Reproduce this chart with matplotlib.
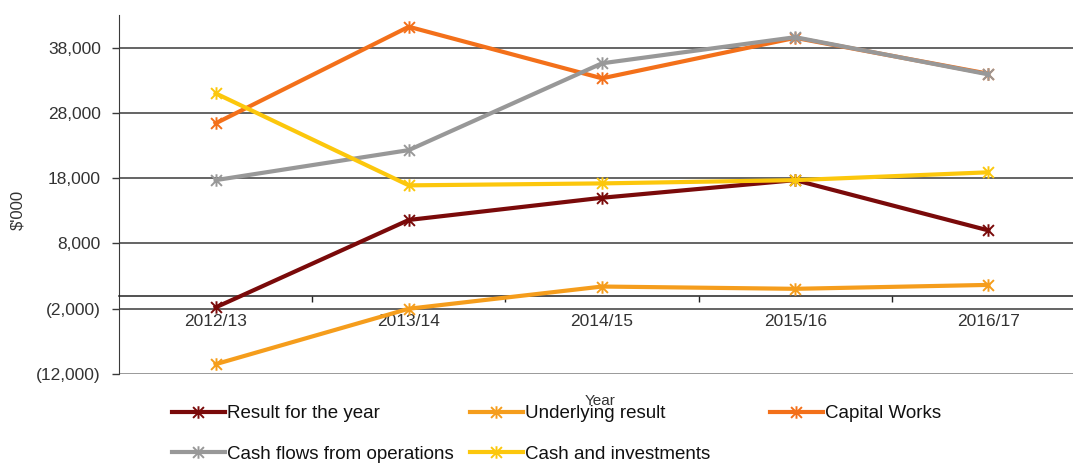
"""
Five-year financial summary: operating result, underlying result, capital
works, operating cash flows and cash holdings ($'000).
"""
import matplotlib
matplotlib.use("Agg")
import matplotlib.pyplot as plt
from matplotlib.path import Path
from matplotlib.ticker import FuncFormatter, FixedLocator

years = ["2012/13", "2013/14", "2014/15", "2015/16", "2016/17"]

result_for_year = [-1800, 11600, 15000, 17700, 10000]
underlying_result = [-10500, -2000, 1400, 1050, 1650]
capital_works = [26400, 41200, 33300, 39500, 34000]
cash_flows_ops = [17700, 22300, 35600, 39600, 33900]
cash_investments = [31000, 16900, 17200, 17700, 18900]

series = [
    ("Result for the year", result_for_year, "#7a0a0a"),
    ("Underlying result", underlying_result, "#f59d1c"),
    ("Capital Works", capital_works, "#f3701a"),
    ("Cash flows from operations", cash_flows_ops, "#989898"),
    ("Cash and investments", cash_investments, "#fcc70c"),
]

y_ticks = [-12000, -2000, 8000, 18000, 28000, 38000]

# Excel-style star marker: an X crossed by a vertical stroke
STAR = Path(
    [(-1, -1), (1, 1), (-1, 1), (1, -1), (0, -1.15), (0, 1.15)],
    [Path.MOVETO, Path.LINETO, Path.MOVETO, Path.LINETO, Path.MOVETO, Path.LINETO],
)

plt.rcParams["font.family"] = ["Liberation Sans Narrow", "Liberation Sans", "DejaVu Sans"]

fig = plt.figure(figsize=(10.73, 4.68), dpi=100)
# plot area runs slightly past the right edge of the figure
ax = fig.add_axes([119 / 1073, 1 - 374 / 468, 966 / 1073, 359 / 468])

x = list(range(len(years)))
handles = {}
for name, vals, color in series:
    (ln,) = ax.plot(x, vals, color=color, lw=3, marker=STAR,
                    markersize=9, markeredgewidth=1.4, label=name,
                    solid_joinstyle="round", zorder=3)
    handles[name] = ln

ax.set_xlim(-0.5, len(years) - 0.5)
ax.set_ylim(-12000, 43000)

# horizontal gridlines
for v in y_ticks:
    ax.axhline(v, color="#3a3a3a" if v != -12000 else "#7f7f7f", lw=1.1, zorder=1)

ax.yaxis.set_major_locator(FixedLocator(y_ticks))
ax.yaxis.set_major_formatter(FuncFormatter(
    lambda v, _: f"({abs(v):,.0f})" if v < 0 else f"{v:,.0f}"))
ax.tick_params(axis="y", length=5, width=1, color="#3a3a3a", labelsize=12.5,
               labelcolor="#333333", pad=8)

# category axis crosses at zero
ax.spines["bottom"].set_position(("data", 0))
ax.spines["bottom"].set_color("#222222")
ax.spines["bottom"].set_linewidth(1.1)
ax.spines["left"].set_color("#3a3a3a")
ax.spines["top"].set_visible(False)
ax.spines["right"].set_visible(False)

ax.set_xticks(x)
ax.set_xticklabels(years)
ax.set_xticks([i + 0.5 for i in x[:-1]], minor=True)
ax.tick_params(axis="x", which="major", length=0, labelsize=12.5,
               labelcolor="#333333", pad=13)
ax.tick_params(axis="x", which="minor", length=4, width=1, color="#222222")

fig.text(18 / 1073, 1 - 210 / 468, "$'000", rotation=90, ha="center",
         va="center", fontsize=12, color="#333333")
fig.text(600 / 1073, 1 - 401 / 468, "Year", ha="center", va="center",
         fontsize=11, color="#333333")

# legend laid out in three fixed-width columns
columns = [
    (172, ["Result for the year", "Cash flows from operations"]),
    (470, ["Underlying result", "Cash and investments"]),
    (770, ["Capital Works"]),
]
for left, names in columns:
    leg = fig.legend([handles[n] for n in names], names,
                     loc="upper left", bbox_to_anchor=(left / 1073, 1 - 405 / 468),
                     frameon=False, fontsize=13.5, handlelength=2.8,
                     handletextpad=0.15, labelspacing=1.25, borderpad=0,
                     borderaxespad=0)
    for t in leg.get_texts():
        t.set_color("#111111")

fig.savefig("out.png", dpi=100)
